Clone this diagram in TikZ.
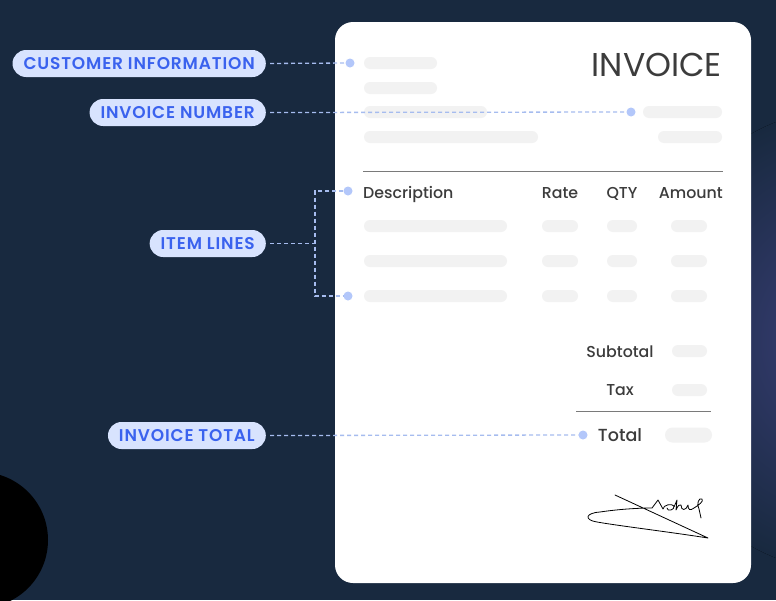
\documentclass[tikz,border=0pt]{standalone}
\usepackage{fontspec}
\setmainfont{Poppins}
\newfontfamily\popmed{Poppins Medium}
\newfontfamily\popbold[LetterSpace=5]{Poppins SemiBold}
\definecolor{bg}{HTML}{18293F}
\definecolor{glow}{HTML}{3A3F78}
\definecolor{barc}{HTML}{F2F2F2}
\definecolor{ink}{HTML}{3C3C3C}
\definecolor{pillc}{HTML}{D8E3FE}
\definecolor{pilltext}{HTML}{3A62EE}
\definecolor{dotc}{HTML}{B3C7FA}
\definecolor{connc}{HTML}{A6BCEF}
\definecolor{rule}{HTML}{7A7A7A}
\tikzset{
  pill/.style={fill=pillc, rounded corners=13.5pt, minimum height=27pt, inner xsep=11pt, inner ysep=0pt,
    text=pilltext, font=\popbold\fontsize{17}{17}\selectfont, anchor=east},
  bar/.style={fill=barc, rounded corners=6pt, minimum height=12pt, inner sep=0pt},
  dotn/.style={circle, fill=dotc, minimum size=9pt, inner sep=0pt},
  conn/.style={draw=connc, line width=1.3pt, dash pattern=on 4pt off 3pt},
  head/.style={text=ink, font=\popmed\fontsize{15.8}{15.8}\selectfont, inner sep=0pt, anchor=base},
}
\begin{document}
\begin{tikzpicture}[x=1pt,y=-1pt]
\useasboundingbox (0,0) rectangle (776,600);
\clip (0,0) rectangle (776,600);
\fill[bg] (0,0) rectangle (776,600);
\fill[inner color=glow, outer color=bg] (840,340) ellipse (200 and 230);
\fill[black] (-20,540) circle (68);
% card
\fill[white, rounded corners=18pt] (335,22) rectangle (751,583);
\node[text=ink, font=\fontsize{33}{33}\selectfont, anchor=base east, inner sep=0pt] (title) at (722,76) {INVOICE};
% header bars
\node[bar, minimum width=73pt] (c1) at (400.5,63) {};
\node[bar, minimum width=73pt] (c2) at (400.5,88) {};
\node[bar, minimum width=123pt] (c3) at (425.5,112) {};
\node[bar, minimum width=174pt] (c4) at (451,137) {};
\node[bar, minimum width=79pt] (n1) at (682.5,112) {};
\node[bar, minimum width=64pt] (n2) at (690,137) {};
\draw[rule, line width=1pt] (363,171) -- (723,171);
% table head
\node[head, anchor=base west] (hd) at (363,198) {Description};
\node[head] (hr) at (560,198) {Rate};
\node[head] (hq) at (622,198) {QTY};
\node[head, anchor=base east] (ha) at (723,198) {Amount};
\foreach \y [count=\i] in {226,261,296}{
  \node[bar, minimum width=143pt] (r\i d) at (435.5,\y) {};
  \node[bar, minimum width=36pt] (r\i r) at (560,\y) {};
  \node[bar, minimum width=30pt] (r\i q) at (622,\y) {};
  \node[bar, minimum width=36pt] (r\i a) at (689,\y) {};
}
% totals
\node[head] (st) at (620,357) {Subtotal};
\node[bar, minimum width=35pt] (stb) at (689.5,351) {};
\node[head] (tx) at (620,395.5) {Tax};
\node[bar, minimum width=35pt] (txb) at (689.5,390) {};
\draw[rule, line width=1pt] (576,411) -- (711,411);
\node[head, font=\popmed\fontsize{17.5}{17.5}\selectfont] (tt) at (620,441) {Total};
\node[bar, minimum width=47pt, minimum height=15pt, rounded corners=7.5pt] (ttb) at (688.5,435) {};
% signature
\draw[black, line width=0.8pt, line cap=round, line join=round]
  (615,495) -- (708,538)
  .. controls (670,532) and (620,526) .. (597,522)
  .. controls (584,520) and (585,513) .. (600,512)
  .. controls (620,509) and (640,508) .. (652,508)
  -- (658,500) -- (663,509)
  .. controls (663,505) and (672,503) .. (674,506)
  .. controls (675,510) and (667,512) .. (667,508)
  (674,507) -- (677,500) -- (676,510)
  .. controls (678,505) and (680,504) .. (681,505)
  .. controls (681,511) and (686,511) .. (688,505)
  .. controls (688,510) and (690,511) .. (694,508)
  .. controls (699,505) and (704,501) .. (702,499)
  .. controls (699,497) and (696,504) .. (699,509)
  -- (701,518);
% labels
\node[pill] (cust) at (266,63.5) {CUSTOMER INFORMATION};
\node[pill] (num) at (266,112.5) {INVOICE NUMBER};
\node[pill] (items) at (266,243.5) {ITEM LINES};
\node[pill] (tot) at (266,435.5) {INVOICE TOTAL};
% dots
\node[dotn] (d1) at (350,63) {};
\node[dotn] (d2) at (631,112) {};
\node[dotn] (d3) at (348,191) {};
\node[dotn] (d4) at (348,296) {};
\node[dotn] (d5) at (583,435) {};
\coordinate (jm) at (315,243.5);
\coordinate (jt) at (315,191);
\coordinate (jb) at (315,296);
% connectors
\draw[conn, shorten <=4pt] (cust.east) -- (d1);
\draw[conn, shorten <=4pt] (num.east) -- (d2);
\draw[conn, shorten <=4pt] (items.east) -- (jm);
\draw[conn] (d3) -- (jt) -- (jb) -- (d4);
\draw[conn, shorten <=4pt] (tot.east) -- (d5);
\end{tikzpicture}
\end{document}
